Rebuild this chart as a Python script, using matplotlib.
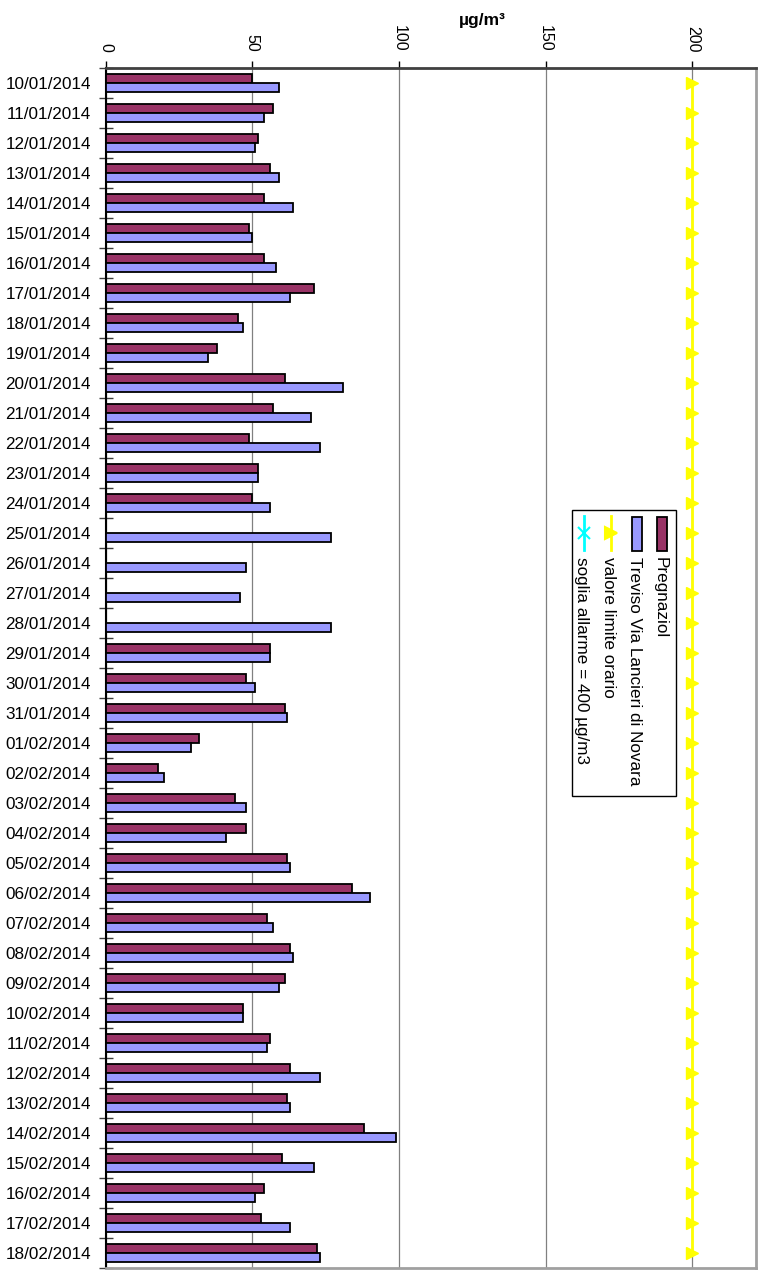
import numpy as np
import matplotlib.pyplot as plt
from matplotlib.patches import Rectangle
from matplotlib.lines import Line2D

plt.rcParams['font.family'] = ['Liberation Sans', 'DejaVu Sans']

# dati giornalieri (µg/m3)
date = ['10/01/2014', '11/01/2014', '12/01/2014', '13/01/2014', '14/01/2014',
        '15/01/2014', '16/01/2014', '17/01/2014', '18/01/2014', '19/01/2014',
        '20/01/2014', '21/01/2014', '22/01/2014', '23/01/2014', '24/01/2014',
        '25/01/2014', '26/01/2014', '27/01/2014', '28/01/2014', '29/01/2014',
        '30/01/2014', '31/01/2014', '01/02/2014', '02/02/2014', '03/02/2014',
        '04/02/2014', '05/02/2014', '06/02/2014', '07/02/2014', '08/02/2014',
        '09/02/2014', '10/02/2014', '11/02/2014', '12/02/2014', '13/02/2014',
        '14/02/2014', '15/02/2014', '16/02/2014', '17/02/2014', '18/02/2014']
pregnaziol = [50, 57, 52, 56, 54, 49, 54, 71, 45, 38,
              61, 57, 49, 52, 50, np.nan, np.nan, np.nan, np.nan, 56,
              48, 61, 32, 18, 44, 48, 62, 84, 55, 63,
              61, 47, 56, 63, 62, 88, 60, 54, 53, 72]
treviso = [59, 54, 51, 59, 64, 50, 58, 63, 47, 35,
           81, 70, 73, 52, 56, 77, 48, 46, 77, 56,
           51, 62, 29, 20, 48, 41, 63, 90, 57, 64,
           59, 47, 55, 73, 63, 99, 71, 51, 63, 73]
limite_orario = [200] * len(date)
soglia_allarme = [400] * len(date)
serie = ['Pregnaziol', 'Treviso Via Lancieri di Novara',
         'valore limite orario', 'soglia allarme = 400 µg/m3']
ticks_x = [0, 50, 100, 150, 200]

W, H = 765, 1271


def px(x, y):
    # pixel -> coordinate figura
    return x / W, 1 - y / H


fig = plt.figure(figsize=(W / 100, H / 100), dpi=100)
ax = fig.add_axes([105.5 / W, 3 / H, 650 / W, 1200 / H])

y = np.arange(len(date))
ax.barh(y - 0.15, pregnaziol, height=0.3, color='#993366',
        edgecolor='black', linewidth=1.3, zorder=3)
ax.barh(y + 0.15, treviso, height=0.3, color='#9999FF',
        edgecolor='black', linewidth=1.3, zorder=3)
ax.plot(limite_orario, y, color='#FFFF00', lw=2, marker='>',
        markersize=8, zorder=4)
ax.plot(soglia_allarme, y, color='#00FFFF', lw=2, marker='x', zorder=4)

ax.set_xlim(0, 221.5)
ax.set_ylim(len(date) - 0.5, -0.5)

ax.xaxis.tick_top()
ax.set_xticks(ticks_x)
ax.set_xticklabels([str(t) for t in ticks_x], rotation=-90, fontsize=11.5)
ax.tick_params(axis='x', length=5, width=1, color='black', pad=6.5)

ax.set_yticks(y)
ax.set_yticklabels(date, fontsize=12.3)
ax.tick_params(axis='y', which='major', length=0, pad=10.5)
ax.set_yticks(np.arange(-0.5, len(date), 1), minor=True)
ax.tick_params(axis='y', which='minor', direction='inout', length=10,
               width=1, color='#404040')

ax.grid(axis='x', color='#808080', lw=0.9)
ax.set_axisbelow(True)

ax.spines['top'].set_color('#404040')
ax.spines['top'].set_linewidth(2)
ax.spines['left'].set_color('black')
ax.spines['left'].set_linewidth(1.5)
for s in ['right', 'bottom']:
    ax.spines[s].set_color('#a0a0a0')
    ax.spines[s].set_linewidth(2)

# titolo asse
fig.text(*px(482, 21), 'µg/m³', fontsize=12.5, weight='bold',
         ha='center', va='center')

# legenda ruotata
x0, y0 = px(571.5, 510)
x1, y1 = px(676, 796)
fig.add_artist(Rectangle((x0, y1), x1 - x0, y0 - y1, transform=fig.transFigure,
                         facecolor='white', edgecolor='black', lw=1))
colonne = [662, 637, 610.5, 584]
for i, nome in enumerate(serie):
    cx = colonne[i]
    if i < 2:
        colore = '#993366' if i == 0 else '#9999FF'
        ax_, ay_ = px(cx - 5, 551)
        bx_, by_ = px(cx + 5, 517)
        fig.add_artist(Rectangle((ax_, ay_), bx_ - ax_, by_ - ay_,
                                 transform=fig.transFigure, facecolor=colore,
                                 edgecolor='black', lw=1.3))
    else:
        colore = '#FFFF00' if i == 2 else '#00FFFF'
        mk = '>' if i == 2 else 'x'
        lx, ly0 = px(cx, 516)
        _, ly1 = px(cx, 550)
        fig.add_artist(Line2D([lx, lx], [ly0, ly1], transform=fig.transFigure,
                              color=colore, lw=2))
        _, lym = px(cx, 533)
        fig.add_artist(Line2D([lx], [lym], transform=fig.transFigure,
                              color=colore, marker=mk, markersize=8,
                              markeredgewidth=1.5))
    fig.text(*px(cx - 2, 557), nome, rotation=-90, fontsize=12.3,
             ha='center', va='top')

fig.savefig('out.png', dpi=100)
